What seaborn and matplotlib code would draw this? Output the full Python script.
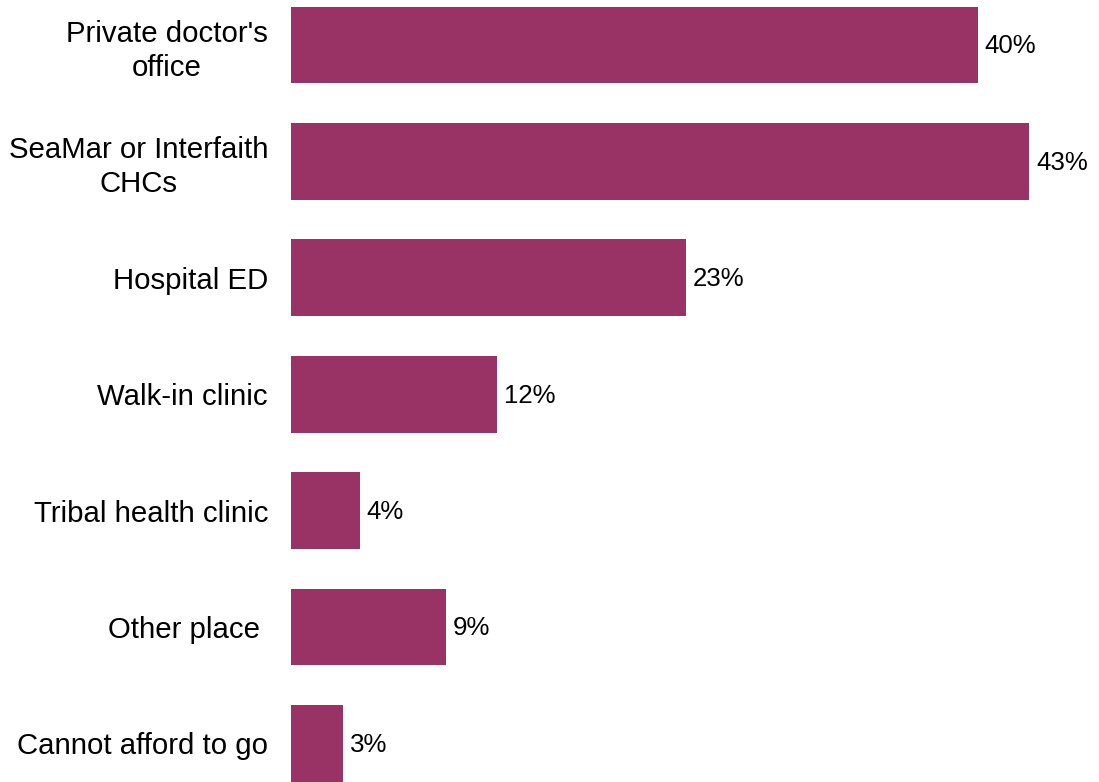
import matplotlib
matplotlib.use("Agg")
import matplotlib.pyplot as plt
import seaborn as sns
import pandas as pd

places = [
    "Private doctor's\noffice",
    "SeaMar or Interfaith\nCHCs",
    "Hospital ED",
    "Walk-in clinic",
    "Tribal health clinic",
    "Other place ",
    "Cannot afford to go",
]
shares = [40, 43, 23, 12, 4, 9, 3]

df = pd.DataFrame({"place": places, "share": shares})

sns.set_theme(style="white")
plt.rcParams["font.family"] = ["Liberation Sans", "DejaVu Sans"]

fig = plt.figure(figsize=(10.99, 7.82), dpi=100)
ax = fig.add_axes([291 / 1099, 0, 1 - 291 / 1099, 1])

sns.barplot(data=df, x="share", y="place", color="#993366", saturation=1,
            width=0.66, linewidth=0, ax=ax)

ax.set_xlim(0, 47.06)
ax.set_ylim(6.331, -0.387)
ax.set_xlabel("")
ax.set_ylabel("")
ax.set_xticks([])
for s in ax.spines.values():
    s.set_visible(False)

ax.tick_params(axis="y", length=0, pad=16.5, labelsize=21.2, labelcolor="black")
for lbl in ax.get_yticklabels():
    lbl.set_multialignment("center")
    lbl.set_linespacing(1.25)

for i, v in enumerate(shares):
    ax.annotate(f"{v}%", xy=(v, i), xytext=(5, -1), textcoords="offset points",
                ha="left", va="center", fontsize=18.6, color="black")

fig.savefig("out.png", dpi=100)
